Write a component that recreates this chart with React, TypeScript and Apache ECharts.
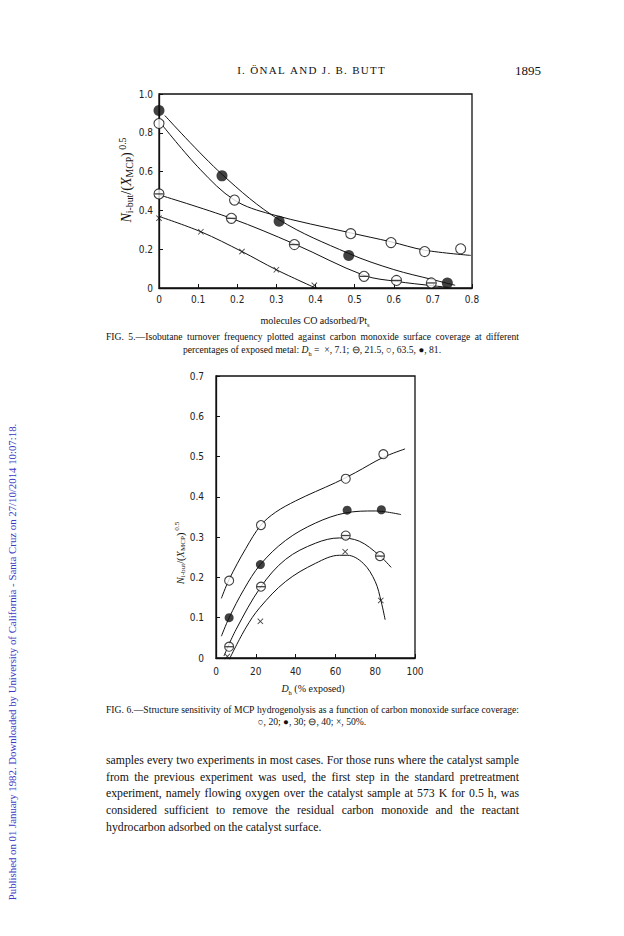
import React, { useEffect, useRef } from "react";
import * as echarts from "echarts";

// ---------- Fig. 5 data (x: molecules CO adsorbed/Pt_s, y: N/(X)^0.5) ----------
const f5Filled = [[0, 0.915], [0.161, 0.578], [0.307, 0.344], [0.485, 0.168], [0.737, 0.026]]; // Dh 81
const f5Open = [[0, 0.848], [0.193, 0.453], [0.49, 0.28], [0.593, 0.234], [0.679, 0.188], [0.771, 0.202]]; // 63.5
const f5Theta = [[0, 0.485], [0.185, 0.359], [0.346, 0.224], [0.524, 0.06], [0.607, 0.039], [0.696, 0.026]]; // 21.5
const f5Cross = [[0, 0.36], [0.107, 0.29], [0.212, 0.188], [0.3, 0.094], [0.397, 0.014]]; // 7.1

const f5FilledCurve = [[0.015, 0.889], [0.161, 0.586], [0.307, 0.352], [0.485, 0.178], [0.6, 0.095], [0.698, 0.044], [0.757, 0.014]];
const f5OpenCurve = [[0.007, 0.843], [0.105, 0.612], [0.193, 0.453], [0.285, 0.381], [0.49, 0.284], [0.593, 0.238], [0.679, 0.195], [0.797, 0.168]];
const f5ThetaCurve = [[0.002, 0.479], [0.185, 0.359], [0.346, 0.227], [0.524, 0.065], [0.607, 0.034], [0.698, 0.012], [0.741, 0.003]];
const f5CrossCurve = [[0, 0.369], [0.107, 0.29], [0.212, 0.188], [0.3, 0.094], [0.4, 0]];

const f5XTicks = [0, 0.1, 0.2, 0.3, 0.4, 0.5, 0.6, 0.7, 0.8];
const f5YTicks = [0, 0.2, 0.4, 0.6, 0.8, 1.0];

// ---------- Fig. 6 data (x: Dh % exposed) ----------
const f6Open = [[6.6, 0.192], [22.6, 0.33], [65.2, 0.445], [84.1, 0.506]]; // 20%
const f6Filled = [[6.6, 0.1], [22.3, 0.232], [65.9, 0.367], [83.1, 0.368]]; // 30%
const f6Theta = [[6.6, 0.028], [22.6, 0.177], [65.2, 0.304], [82.4, 0.253]]; // 40%
const f6Cross = [[5.7, 0.004], [22.3, 0.091], [64.9, 0.264], [82.8, 0.143]]; // 50%

const f6OpenCurve = [[2.7, 0.148], [6.6, 0.195], [15, 0.272], [22.6, 0.33], [30, 0.362], [40, 0.39], [50, 0.413], [60, 0.435], [70, 0.46], [84, 0.498], [95, 0.519]];
const f6FilledCurve = [[2.7, 0.054], [6.6, 0.1], [14, 0.17], [22.3, 0.232], [35, 0.292], [50, 0.335], [65, 0.36], [80, 0.365], [93, 0.356]];
const f6ThetaCurve = [[4, 0.005], [10, 0.07], [22.6, 0.177], [35, 0.245], [50, 0.285], [62, 0.298], [72, 0.29], [82, 0.255], [88, 0.225]];
const f6CrossCurve = [[7, 0], [15, 0.075], [22, 0.125], [35, 0.19], [50, 0.235], [62, 0.255], [66, 0.255], [74, 0.235], [80, 0.19], [83, 0.14], [85, 0.095]];

const f6XTicks = [0, 20, 40, 60, 80, 100];
const f6YTicks = [0, 0.1, 0.2, 0.3, 0.4, 0.5, 0.6, 0.7];

// ---------- texts ----------
const headerText = "I. ÖNAL AND J. B. BUTT";
const pageNumber = "1895";
const cap5Line1 = "FIG. 5.—Isobutane turnover frequency plotted against carbon monoxide surface coverage at different";
const cap6Line1 = "FIG. 6.—Structure sensitivity of MCP hydrogenolysis as a function of carbon monoxide surface coverage:";
const cap6Line2 = "○, 20; ●, 30; ⊖, 40; ×, 50%.";
const bodyLines = [
  "samples every two experiments in most cases. For those runs where the catalyst sample",
  "from the previous experiment was used, the first step in the standard pretreatment",
  "experiment, namely flowing oxygen over the catalyst sample at 573 K for 0.5 h, was",
  "considered sufficient to remove the residual carbon monoxide and the reactant",
  "hydrocarbon adsorbed on the catalyst surface.",
];
const sideNote = "Published on 01 January 1982. Downloaded by University of California - Santa Cruz on 27/10/2014 10:07:18.";

const SERIF = "Liberation Serif";
const TICKFONT = "DejaVu Sans Condensed";
const CROSS = "path://M0,1 L1,0 L5,4 L9,0 L10,1 L6,5 L10,9 L9,10 L5,6 L1,10 L0,9 L4,5 Z";

let measureCtx: CanvasRenderingContext2D | null = null;
function measure(t: string, size: number, family: string) {
  if (!measureCtx) measureCtx = document.createElement("canvas").getContext("2d");
  measureCtx!.font = `${size}px "${family}"`;
  return measureCtx!.measureText(t).width;
}

// font size at which the lines, with normal spaces, just fit the measure
function fitSize(lines: string[], width: number, maxSize: number) {
  let s = maxSize;
  lines.forEach((l) => {
    const w = measure(l, 20, SERIF);
    const fit = (width / w) * 20 * 0.995;
    if (fit < s) s = fit;
  });
  return s;
}

function justified(text: string, x0: number, x1: number, y: number, size: number, fill = "#111") {
  const words = text.split(" ");
  const widths = words.map((w) => measure(w, size, SERIF));
  const total = widths.reduce((a, b) => a + b, 0);
  const gap = (x1 - x0 - total) / (words.length - 1);
  const els: any[] = [];
  let x = x0;
  words.forEach((w, i) => {
    els.push({
      type: "text",
      x,
      y,
      style: { text: w, fontFamily: SERIF, fontSize: size, fill, align: "left", verticalAlign: "middle" },
    });
    x += widths[i] + gap;
  });
  return els;
}

function tracked(text: string, cx: number, y: number, size: number, tracking: number) {
  const chars = Array.from(text);
  const widths = chars.map((c) => measure(c, size, SERIF));
  const total = widths.reduce((a, b) => a + b, 0) + tracking * (chars.length - 1);
  let x = cx - total / 2;
  const els: any[] = [];
  chars.forEach((c, i) => {
    if (c !== " ")
      els.push({
        type: "text",
        x,
        y,
        style: { text: c, fontFamily: SERIF, fontSize: size, fill: "#111", align: "left", verticalAlign: "middle" },
      });
    x += widths[i] + tracking;
  });
  return els;
}

function fmt(v: number) {
  return v === 0 ? "0" : (Math.round(v * 10) / 10).toFixed(1);
}

export default function App() {
  const ref = useRef<HTMLDivElement>(null);

  useEffect(() => {
    if (!ref.current) return;
    const chart = echarts.init(ref.current, undefined, { renderer: "svg" });

    const axisLine = { show: true, lineStyle: { color: "#111", width: 1.3 } };
    const tickLabel = { color: "#222", fontFamily: TICKFONT, fontSize: 10 };

    const curve = (data: number[][], xi: number) => ({
      type: "line",
      xAxisIndex: xi,
      yAxisIndex: xi,
      data,
      smooth: 0.35,
      symbol: "none",
      lineStyle: { color: "#111", width: 1 },
      z: 2,
      silent: true,
    });
    const openPts = (data: number[][], xi: number, size: number) => ({
      type: "scatter",
      xAxisIndex: xi,
      yAxisIndex: xi,
      data,
      symbol: "circle",
      symbolSize: size,
      itemStyle: { color: "#fff", borderColor: "#111", borderWidth: 1.1 },
      z: 3,
    });
    const filledPts = (data: number[][], xi: number, size: number) => ({
      type: "scatter",
      xAxisIndex: xi,
      yAxisIndex: xi,
      data,
      symbol: "circle",
      symbolSize: size,
      itemStyle: { color: "#111" },
      z: 3,
    });
    const thetaBars = (data: number[][], xi: number, size: number) => ({
      type: "scatter",
      xAxisIndex: xi,
      yAxisIndex: xi,
      data,
      symbol: "rect",
      symbolSize: [size - 1, 1.3],
      itemStyle: { color: "#111" },
      z: 4,
    });
    const crossPts = (data: number[][], xi: number, size: number) => ({
      type: "scatter",
      xAxisIndex: xi,
      yAxisIndex: xi,
      data,
      symbol: CROSS,
      symbolSize: size,
      itemStyle: { color: "#111" },
      z: 3,
    });

    const mkRich = (fs: number, subRatio = 0.65, lh = 5) => ({
      it: { fontFamily: SERIF, fontStyle: "italic", fontSize: fs, lineHeight: fs + lh, fill: "#111" },
      n: { fontFamily: SERIF, fontSize: fs, lineHeight: fs + lh, fill: "#111" },
      sub: { fontFamily: SERIF, fontSize: fs * subRatio, verticalAlign: "bottom", lineHeight: fs + lh, fill: "#111" },
      sup: { fontFamily: SERIF, fontSize: fs * subRatio, verticalAlign: "top", lineHeight: fs + lh, fill: "#111" },
    });
    const yName = "{it|N}{sub|i-but}{n|/(}{it|X}{sub|MCP}{n|)}{sup| 0.5}";

    const bodySize = fitSize(bodyLines.slice(0, 4), 413, 13.5);
    const capSize = fitSize([cap5Line1, cap6Line1], 413, 10);

    const graphics: any[] = [
      ...tracked(headerText, 311, 70, 11, 1.3),
      {
        type: "text",
        x: 528,
        y: 70,
        style: { text: pageNumber, fontFamily: SERIF, fontSize: 13, fill: "#111", align: "center", verticalAlign: "middle" },
      },
      // Fig 5 axis names
      {
        type: "text",
        x: 315,
        y: 320,
        style: {
          text: "{n|molecules CO adsorbed/Pt}{sub|s}",
          rich: mkRich(10),
          align: "center",
          verticalAlign: "middle",
        },
      },
      {
        type: "text",
        x: 126,
        y: 180,
        rotation: Math.PI / 2,
        style: { text: yName, rich: mkRich(14, 0.7, 3), align: "center", verticalAlign: "middle" },
      },
      // Fig 6 axis names
      {
        type: "text",
        x: 313,
        y: 688,
        style: {
          text: "{it|D}{sub|h}{n| (% exposed)}",
          rich: mkRich(10),
          align: "center",
          verticalAlign: "middle",
        },
      },
      {
        type: "text",
        x: 180,
        y: 553,
        rotation: Math.PI / 2,
        style: { text: yName, rich: mkRich(10.5, 0.68, 3), align: "center", verticalAlign: "middle" },
      },
      // Fig 5 caption line 2
      {
        type: "text",
        x: 312,
        y: 349,
        style: {
          text: "{n|percentages of exposed metal: }{it|D}{sub|h}{n| =  ×, 7.1; ⊖, 21.5, ○, 63.5, ●, 81.}",
          rich: mkRich(capSize),
          align: "center",
          verticalAlign: "middle",
        },
      },
      {
        type: "text",
        x: 312,
        y: 721,
        style: { text: cap6Line2, fontFamily: SERIF, fontSize: capSize, fill: "#111", align: "center", verticalAlign: "middle" },
      },
      // side note
      {
        type: "text",
        x: 12,
        y: 662,
        rotation: Math.PI / 2,
        style: { text: sideNote, fontFamily: SERIF, fontSize: 10.8, fill: "#3a3ac4", align: "center", verticalAlign: "middle" },
      },
      // last body line (not justified)
      {
        type: "text",
        x: 106,
        y: 827,
        style: { text: bodyLines[4], fontFamily: SERIF, fontSize: bodySize, fill: "#111", align: "left", verticalAlign: "middle" },
      },
      ...justified(cap5Line1, 106, 519, 336, capSize),
      ...justified(cap6Line1, 106, 519, 709, capSize),
      ...justified(bodyLines[0], 106, 519, 760, bodySize),
      ...justified(bodyLines[1], 106, 519, 777, bodySize),
      ...justified(bodyLines[2], 106, 519, 793.5, bodySize),
      ...justified(bodyLines[3], 106, 519, 810, bodySize),
    ];

    chart.setOption({
      animation: false,
      backgroundColor: "#fff",
      grid: [
        { left: 159, top: 94, width: 313, height: 194, show: true, borderColor: "#111", borderWidth: 1.3, backgroundColor: "transparent" },
        { left: 216, top: 376, width: 199, height: 282, show: true, borderColor: "#111", borderWidth: 1.3, backgroundColor: "transparent" },
      ],
      xAxis: [
        {
          type: "value",
          gridIndex: 0,
          min: f5XTicks[0],
          max: f5XTicks[f5XTicks.length - 1],
          interval: 0.1,
          axisLine,
          axisTick: { show: true, inside: true, length: 4, lineStyle: { color: "#111" } },
          axisLabel: { ...tickLabel, margin: 6, formatter: fmt },
          splitLine: { show: false },
        },
        {
          type: "value",
          gridIndex: 1,
          min: f6XTicks[0],
          max: f6XTicks[f6XTicks.length - 1],
          interval: 20,
          axisLine,
          axisTick: { show: true, inside: true, length: 4, lineStyle: { color: "#111" } },
          axisLabel: { ...tickLabel, margin: 8, formatter: (v: number) => String(v) },
          splitLine: { show: false },
        },
      ],
      yAxis: [
        {
          type: "value",
          gridIndex: 0,
          min: f5YTicks[0],
          max: f5YTicks[f5YTicks.length - 1],
          interval: 0.2,
          axisLine,
          axisTick: { show: true, inside: true, length: 4, lineStyle: { color: "#111" } },
          axisLabel: { ...tickLabel, margin: 6, formatter: fmt },
          splitLine: { show: false },
        },
        {
          type: "value",
          gridIndex: 1,
          min: f6YTicks[0],
          max: f6YTicks[f6YTicks.length - 1],
          interval: 0.1,
          axisLine,
          axisTick: { show: true, inside: true, length: 4, lineStyle: { color: "#111" } },
          axisLabel: { ...tickLabel, margin: 12, formatter: fmt },
          splitLine: { show: false },
        },
      ],
      series: [
        curve(f5FilledCurve, 0),
        curve(f5OpenCurve, 0),
        curve(f5ThetaCurve, 0),
        curve(f5CrossCurve, 0),
        filledPts(f5Filled, 0, 11),
        openPts(f5Open, 0, 10),
        openPts(f5Theta, 0, 10),
        thetaBars(f5Theta, 0, 10),
        crossPts(f5Cross, 0, 6),
        curve(f6OpenCurve, 1),
        curve(f6FilledCurve, 1),
        curve(f6ThetaCurve, 1),
        curve(f6CrossCurve, 1),
        openPts(f6Open, 1, 9),
        filledPts(f6Filled, 1, 9),
        openPts(f6Theta, 1, 9),
        thetaBars(f6Theta, 1, 9),
        crossPts(f6Cross, 1, 6),
      ],
      graphic: graphics,
    });

    return () => chart.dispose();
  }, []);

  return (
    <div
      ref={ref}
      style={{ position: "absolute", left: 0, top: 0, width: 624, height: 936, background: "#fff" }}
    />
  );
}
